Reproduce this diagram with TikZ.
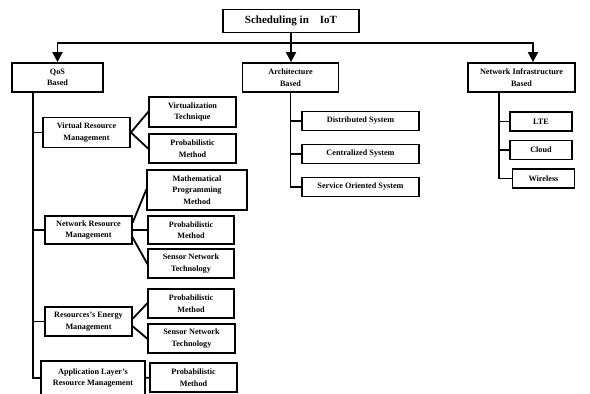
\documentclass[tikz,border=0pt]{standalone}
\usepackage{fontspec}
\setmainfont{Liberation Serif}
\usetikzlibrary{arrows.meta}
\tikzset{>={Triangle[length=10pt,width=10pt]}}
\tikzset{box/.style = {draw, line width = 1.8pt, inner sep = 0pt, align = center, font = \fontsize{8.2}{11.5}\selectfont\bfseries}}
\tikzset{wire/.style = {line width = 1.8pt, line cap = rect}}

\begin{document}
\begin{tikzpicture}[x = 1pt, y = -1pt]
\useasboundingbox (0,0) rectangle (590,394);
\node[box, minimum width = 136pt, minimum height = 23pt, font = \fontsize{11}{13}\selectfont\bfseries] (root) at (291,21) {Scheduling in\quad{}IoT};
\node[box, minimum width = 91pt, minimum height = 29pt] (qos) at (57.5,77.5) {QoS\\Based};
\node[box, minimum width = 96pt, minimum height = 29pt] (arch) at (290.5,77.5) {Architecture\\Based};
\node[box, minimum width = 107pt, minimum height = 29pt] (infra) at (521.5,77.5) {Network Infrastructure\\Based};
\coordinate (bus) at (291,43);
\draw[wire] (root.south) -- (bus);
\draw[wire, ->] (bus) -| (qos.north);
\draw[wire, ->] (bus) -| ([xshift = 11.5pt]infra.north);
\draw[wire, ->] (bus) -- (bus |- arch.north);

\node[box, minimum width = 87pt, minimum height = 30pt] (vrm) at (86.5,132.5) {Virtual Resource\\Management};
\node[box, minimum width = 87pt, minimum height = 28pt] (nrm) at (88.5,230) {Network Resource\\Management};
\node[box, minimum width = 87pt, minimum height = 29pt] (erm) at (88.5,321.5) {Resources's Energy\\Management};
\node[box, minimum width = 104pt, minimum height = 34pt] (alrm) at (93,378) {Application Layer's\\Resource Management};
\coordinate (qt) at ([xshift = 22pt]qos.south west);
\draw[wire] (qt) |- (alrm);
\foreach \nm in {vrm, nrm, erm}{
\draw[wire] (qt |- \nm) -- (\nm);
}

\node[box, minimum width = 87pt, minimum height = 30pt] (virt) at (192.5,112) {Virtualization\\Technique};
\node[box, minimum width = 87pt, minimum height = 29pt] (vprob) at (192.5,148.5) {Probabilistic\\Method};
\node[box, minimum width = 100pt, minimum height = 40pt] (math) at (197,190) {Mathematical\\Programming\\Method};
\node[box, minimum width = 86pt, minimum height = 28pt] (nprob) at (191,230) {Probabilistic\\Method};
\node[box, minimum width = 86pt, minimum height = 29pt] (nsens) at (191,263.5) {Sensor Network\\Technology};
\node[box, minimum width = 86pt, minimum height = 29pt] (eprob) at (191,303.5) {Probabilistic\\Method};
\node[box, minimum width = 87pt, minimum height = 29pt] (esens) at (191.5,338.5) {Sensor Network\\Technology};
\node[box, minimum width = 87pt, minimum height = 29pt] (aprob) at (193.5,377.5) {Probabilistic\\Method};
\draw[wire] (virt.west) -- (vrm.east) -- (vprob.west);
\draw[wire] ([yshift = 8pt]nrm.east) -- (math.west);
\draw[wire] (nrm) -- (nprob);
\draw[wire] ([yshift = -8pt]nrm.east) -- (nsens.west);
\draw[wire] ([yshift = 3pt]erm.east) -- (eprob.west);
\draw[wire] ([yshift = -5pt]erm.east) -- (esens.west);
\draw[wire] (alrm) -- (aprob);

\foreach \nm/\yy/\txt in {dist/121/Distributed System, cent/154/Centralized System, serv/187/Service Oriented System}{
\node[box, minimum width = 117pt, minimum height = 19pt] (\nm) at (360.5,\yy) {\txt};
\draw[wire] (arch.south |- \nm) -- (\nm);
}
\draw[wire] (arch.south) -- (arch.south |- serv);

\coordinate (it) at ([xshift = 32pt]infra.south west);
\foreach \nm/\xx/\yy/\txt in {lte/541/121.5/LTE, cloud/541/150/Cloud, wless/543.5/178.5/Wireless}{
\node[box, minimum width = 62pt, minimum height = 19pt] (\nm) at (\xx,\yy) {\txt};
\draw[wire] (it |- \nm) -- (\nm);
}
\draw[wire] (it) -- (it |- wless);
\end{tikzpicture}
\end{document}
